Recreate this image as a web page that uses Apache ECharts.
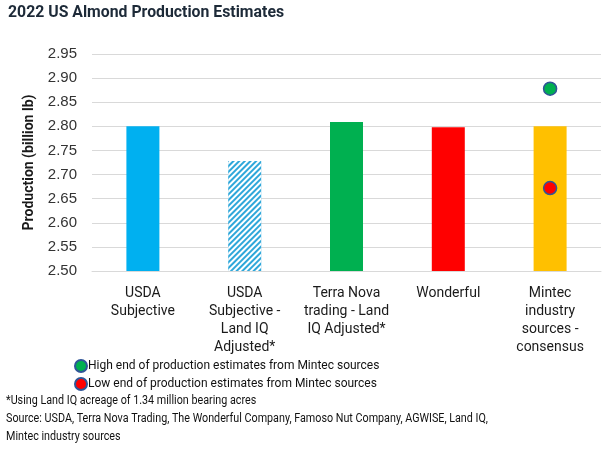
<!DOCTYPE html>
<html><head><meta charset="utf-8">
<script src="https://cdn.jsdelivr.net/npm/echarts@6/dist/echarts.min.js"></script>
<style>html,body{margin:0;padding:0;background:#fff}#c{width:612px;height:449px}</style>
</head><body><div id="c"></div>
<script>
const categories = ['USDA\nSubjective','USDA\nSubjective -\nLand IQ\nAdjusted*','Terra Nova\ntrading - Land\nIQ Adjusted*','Wonderful','Mintec\nindustry\nsources -\nconsensus'];
const estimates = [2.80, 2.728, 2.809, 2.798, 2.80];
const highEnd = [null, null, null, null, 2.878];
const lowEnd = [null, null, null, null, 2.672];
const yTicks = {min: 2.50, max: 2.95, interval: 0.05};
const barColors = ['#00B0F0', '#2EA7DA', '#00B050', '#FF0000', '#FFC000'];

const chart = echarts.init(document.getElementById('c'), null, {renderer: 'canvas'});
const barData = estimates.map((v, i) => {
  const d = {value: v, itemStyle: {color: barColors[i]}};
  if (i === 1) {
    d.itemStyle.decal = {symbol: 'rect', dashArrayX: [1, 0], dashArrayY: [2, 2], rotation: -Math.PI / 4, color: '#ffffff', symbolSize: 1};
  }
  return d;
});
const foot = '12.5px Roboto';
chart.setOption({
  animation: false,
  grid: {left: 92, right: 11, top: 54, bottom: 178, containLabel: false},
  xAxis: {type: 'category', data: categories,
    axisLine: {show: true, lineStyle: {color: '#d9d9d9'}}, axisTick: {show: false},
    axisLabel: {interval: 0, fontFamily: 'Roboto', fontSize: 14, color: '#1a1a1a', lineHeight: 18, margin: 13}},
  yAxis: {type: 'value', min: yTicks.min, max: yTicks.max, interval: yTicks.interval,
    name: 'Production (billion lb)', nameLocation: 'middle', nameGap: 50,
    nameTextStyle: {fontFamily: 'Roboto', fontSize: 14, fontWeight: 'bold', color: '#1a1a1a'},
    axisLabel: {formatter: v => v.toFixed(2), fontFamily: 'Liberation Sans', fontSize: 15, color: '#333', margin: 15},
    splitLine: {lineStyle: {color: '#d9d9d9'}}},
  legend: {orient: 'vertical', left: 69, top: 354, itemGap: 4, itemWidth: 12, itemHeight: 12,
    data: [{name: 'High end of production estimates from Mintec sources', icon: 'circle'},
           {name: 'Low end of production estimates from Mintec sources', icon: 'circle'}],
    textStyle: {fontFamily: 'Roboto', fontSize: 12, color: '#111', padding: [0,0,0,-4]}},
  series: [
    {type: 'bar', name: 'Estimate', data: barData, barWidth: 33},
    {type: 'scatter', name: 'High end of production estimates from Mintec sources', data: highEnd,
      symbolSize: 13, itemStyle: {color: '#00B050', borderColor: '#2F5597', borderWidth: 1.5, opacity: 1}},
    {type: 'scatter', name: 'Low end of production estimates from Mintec sources', data: lowEnd,
      symbolSize: 13, itemStyle: {color: '#FF0000', borderColor: '#2F5597', borderWidth: 1.5, opacity: 1}}
  ],
  graphic: [
    {type: 'text', x: 8, y: 4, scaleX: 0.93, style: {text: '2022 US Almond Production Estimates', font: 'bold 17px Roboto', fill: '#1d2a38'}},
    {type: 'text', x: 6, y: 394, scaleX: 0.86, style: {text: '*Using Land IQ acreage of 1.34 million bearing acres', font: foot, fill: '#111'}},
    {type: 'text', x: 6, y: 412, scaleX: 0.86, style: {text: 'Source: USDA, Terra Nova Trading, The Wonderful Company, Famoso Nut Company, AGWISE, Land IQ,', font: foot, fill: '#111'}},
    {type: 'text', x: 6, y: 430, scaleX: 0.86, style: {text: 'Mintec industry sources', font: foot, fill: '#111'}}
  ]
});
</script></body></html>
